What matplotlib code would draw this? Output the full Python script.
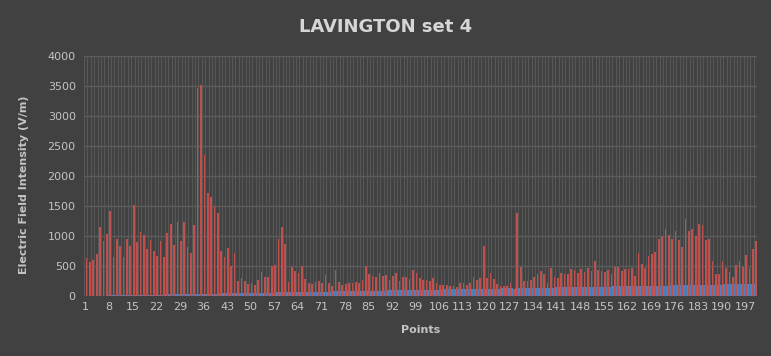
import numpy as np
import matplotlib.pyplot as plt

# 1. Data
points = list(range(1, 201))

field_red = [
    640, 560, 600, 706, 1156, 917, 1040, 1418, 650, 950,
    828, 650, 950, 828, 1523, 906, 1067, 1023, 784, 940,
    750, 673, 912, 650, 1045, 1195, 850, 1240, 923, 1234,
    817, 717, 1184, 3470, 3510, 2352, 1720, 1655, 1505, 1390,
    758, 655, 795, 508, 716, 251, 301, 251, 207, 223,
    184, 273, 408, 324, 319, 492, 520, 956, 1157, 861,
    229, 481, 425, 380, 503, 285, 212, 201, 235, 246,
    218, 352, 218, 168, 436, 235, 184, 196, 212, 212,
    235, 218, 274, 503, 369, 335, 319, 391, 335, 352,
    268, 335, 386, 252, 324, 313, 285, 436, 380, 302,
    268, 268, 257, 296, 212, 184, 184, 184, 173, 168,
    151, 212, 212, 190, 218, 319, 268, 302, 838, 302,
    391, 291, 201, 168, 168, 168, 224, 120, 1375, 481,
    252, 252, 263, 319, 363, 419, 369, 224, 470, 319,
    296, 380, 363, 363, 453, 436, 386, 453, 402, 470,
    414, 581, 436, 419, 402, 430, 369, 475, 481, 414,
    458, 458, 470, 335, 716, 525, 470, 671, 693, 732,
    945, 1006, 1124, 1017, 950, 1090, 939, 816, 1286, 1090,
    1118, 1001, 1207, 1185, 939, 956, 581, 375, 369, 576,
    464, 397, 319, 514, 587, 486, 676, 470, 788, 922,
]

field_blue = [
    2, 3, 4, 5, 6, 7, 8, 9, 10, 11,
    12, 13, 14, 15, 16, 17, 18, 19, 20, 21,
    22, 23, 24, 25, 26, 27, 28, 29, 30, 31,
    32, 33, 34, 35, 36, 37, 38, 39, 40, 41,
    42, 43, 44, 45, 46, 47, 48, 49, 50, 51,
    52, 53, 54, 55, 56, 57, 58, 59, 60, 61,
    62, 63, 64, 65, 66, 67, 68, 69, 70, 71,
    72, 73, 74, 75, 76, 77, 78, 79, 80, 81,
    82, 83, 84, 85, 86, 87, 88, 89, 90, 91,
    92, 93, 94, 95, 96, 97, 98, 99, 100, 101,
    102, 103, 104, 105, 106, 107, 108, 109, 110, 111,
    112, 113, 114, 115, 116, 117, 118, 119, 120, 121,
    122, 123, 124, 125, 126, 127, 128, 129, 130, 131,
    132, 133, 134, 135, 136, 137, 138, 139, 140, 141,
    142, 143, 144, 145, 146, 147, 148, 149, 150, 151,
    152, 153, 154, 155, 156, 157, 158, 159, 160, 161,
    162, 163, 164, 165, 166, 167, 168, 169, 170, 171,
    172, 173, 174, 175, 176, 177, 178, 179, 180, 181,
    182, 183, 184, 185, 186, 187, 188, 189, 190, 191,
    192, 193, 194, 195, 196, 197, 198, 199, 200, 201,
]

x_tick_labels = [str(p) for p in points[::7]]

# 2. Style
bg = '#414141'
grid_col = '#575757'
text_col = '#c4c4c4'
red = '#c0504d'
blue = '#4f81bd'

plt.rcParams['font.family'] = ['DejaVu Sans']

fig = plt.figure(figsize=(7.71, 3.56), dpi=100, facecolor=bg)
ax = fig.add_axes([0.109, 0.1685, 0.873, 0.6745], facecolor=bg)

x = np.array(points)
ax.bar(x - 0.25, field_blue, width=0.5, color=blue, zorder=2, linewidth=0)
ax.bar(x + 0.25, field_red, width=0.5, color=red, zorder=2, linewidth=0)

# 3. Axes
ax.set_xlim(0.5, 200.5)
ax.set_ylim(0, 4000)
ax.set_yticks(np.arange(0, 4001, 500))
ax.set_xticks(points[::7])
ax.set_xticklabels(x_tick_labels)

# category gridlines between groups
ax.set_xticks(np.arange(0.5, 201, 1), minor=True)
ax.grid(True, which='minor', axis='x', color=grid_col, linewidth=0.8, zorder=0)
ax.grid(True, which='major', axis='y', color='#5c5c5c', linewidth=1.0, zorder=0)
ax.grid(False, which='major', axis='x')
ax.set_axisbelow(True)

ax.tick_params(axis='both', which='both', length=0, colors=text_col, labelsize=8)
ax.tick_params(axis='y', pad=6)
ax.tick_params(axis='x', pad=4)
for s in ax.spines.values():
    s.set_visible(False)

ax.set_xlabel("Points", color=text_col, fontsize=8, fontweight='bold', labelpad=10)
ax.set_ylabel("Electric Field Intensity (V/m)", color=text_col, fontsize=8,
              fontweight='bold')
ax.yaxis.set_label_coords(-0.082, 0.465)
fig.text(0.5, 0.924, "LAVINGTON set 4", color='#d6d6d6', fontsize=13,
         fontweight='bold', ha='center', va='center')

plt.savefig("out.png", dpi=100, facecolor=bg)
